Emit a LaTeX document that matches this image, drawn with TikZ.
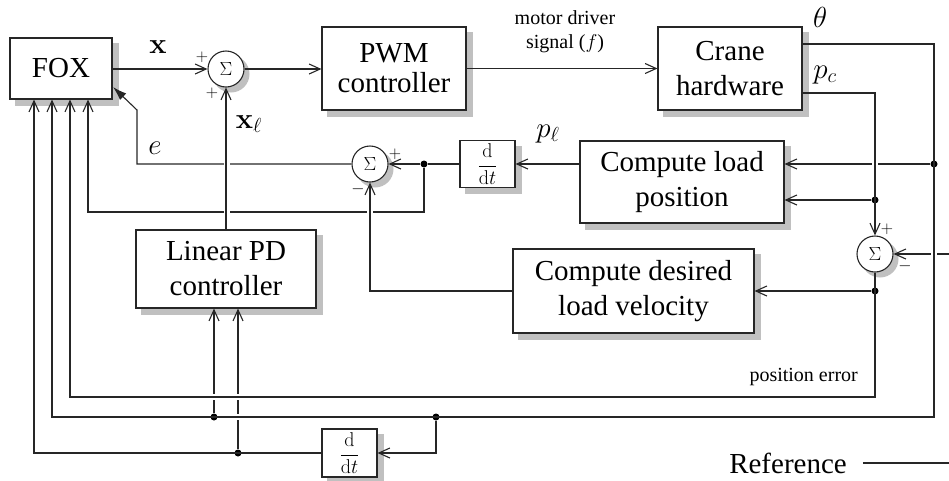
\documentclass[tikz,border=0pt]{standalone}
\usepackage{fix-cm}
\usepackage[no-math]{fontspec}
\setmainfont{Liberation Serif}
\usetikzlibrary{arrows.meta}
\pgfdeclarelayer{shadowlayer}
\pgfsetlayers{shadowlayer,main}
\definecolor{shadowgray}{RGB}{192,192,192}
\newcommand\fsBig{\fontsize{29}{35}\selectfont}
\newcommand\fsPWM{\fontsize{29}{30}\selectfont}
\newcommand\fsSmall{\fontsize{20}{24}\selectfont}
\newcommand\fsSig{\fontsize{19}{23}\selectfont}
\newcommand\fsPM{\fontsize{17}{20}\selectfont}
\newcommand\fsDdt{\fontsize{20}{24}\selectfont}
\begin{document}
\begin{tikzpicture}[x=1pt,y=-1pt,
  wire/.style={draw=black!85, line width=1.1pt},
  arr/.style={wire, -{Straight Barb[length=11pt,width=10pt]}},
  halo/.style={draw=white, line width=6pt},
  shadowfill/.style={fill=shadowgray, draw=none},
  box/.style={draw=black!85, line width=1.1pt, fill=white, inner sep=0pt, align=center, font=\fsBig},
  sumnode/.style={circle, draw=black!85, line width=1.1pt, fill=white, minimum size=36pt, inner sep=0pt, font=\fsSig},
  dot/.style={circle, fill=black, inner sep=0pt, minimum size=7pt},
  lbl/.style={inner sep=0pt, font=\fsBig},
  smalltxt/.style={inner sep=0pt, align=center, font=\fsSmall},
  pm/.style={inner sep=0pt, font=\fsPM},
]
\useasboundingbox (0,0) rectangle (949,480);

% blocks
\node[box, minimum width=102pt, minimum height=61pt] (fox) at (61,68.5) {FOX};
\node[box, font=\fsPWM, minimum width=144pt, minimum height=83pt] (pwm) at (394,68.5) {PWM\\controller};
\node[box, minimum width=144pt, minimum height=83pt] (crane) at (730,68.5) {Crane\\hardware};
\node[box, minimum width=204pt, minimum height=82pt] (cload) at (682,182) {Compute load\\position};
\node[box, font=\fsDdt, minimum width=55pt, minimum height=47pt] (ddt1) at (487.5,164) {$\displaystyle\frac{\mathrm{d}}{\mathrm{d}t}$};
\node[box, minimum width=180pt, minimum height=78pt] (lpd) at (226,269) {Linear PD\\controller};
\node[box, minimum width=241pt, minimum height=84pt] (cdes) at (633.5,291) {Compute desired\\load velocity};
\node[box, font=\fsDdt, minimum width=55pt, minimum height=48pt] (ddt2) at (349.5,453) {$\displaystyle\frac{\mathrm{d}}{\mathrm{d}t}$};
\node[sumnode] (s1) at (226,69) {$\Sigma$};
\node[sumnode] (s2) at (370,164) {$\Sigma$};
\node[sumnode] (s3) at (875,254) {$\Sigma$};

% drop shadows, behind the blocks
\begin{pgfonlayer}{shadowlayer}
\foreach \n in {fox,pwm,crane,cload,ddt1,lpd,cdes,ddt2}
  \fill[shadowfill] ([shift={(6,6)}]\n.south west) rectangle ([shift={(6,6)}]\n.north east);
\foreach \n in {s1,s2,s3}
  \fill[shadowfill] ([shift={(5,5)}]\n.center) circle (18.5pt);
\end{pgfonlayer}

% branch points
\node[dot] (d1) at (934,164) {};
\node[dot] (d2) at (875,200) {};
\node[dot] (d3) at (875,291) {};
\node[dot] (d4) at (424,164) {};
\node[dot] (d5) at (214,417) {};
\node[dot] (d6) at (436,417) {};
\node[dot] (d7) at (238,453) {};

% routing points
\coordinate (thA) at (934,44);
\coordinate (thB) at (934,417);
\coordinate (thC) at (52,417);
\coordinate (pcA) at (875,93);
\coordinate (peA) at (875,397);
\coordinate (peB) at (70,397);
\coordinate (plA) at (424,212);
\coordinate (plB) at (88,212);
\coordinate (eA) at (137,164);
\coordinate (eB) at (137,110);
\coordinate (eT) at (113,87);
\coordinate (ddA) at (436,453);
\coordinate (ddB) at (34,453);
\coordinate (rin) at (949,254);
\coordinate (refR) at (949,463);

% lines that are broken at crossings
\draw[wire, -{Latex[length=14pt,width=9pt]}] (s2.west) -- (eA) -- (eB) -- (eT);
\draw[wire] (ddt1.west) -- (d4);
\draw[arr] (d4) -- (s2.east);
\draw[arr] (d4) -- (plA) -- (plB) -- (fox.south -| plB);
\draw[arr] (d1) -- (cload.east |- d1);
\draw[arr] (rin) -- (s3.east);
\draw[arr] (d5) -- (lpd.south -| d5);
\draw[arr] (d7) -- (lpd.south -| d7);

% gaps
\draw[halo] (227,159) -- (227,169);
\draw[halo] (227,207) -- (227,217);
\draw[halo] (370,207) -- (370,217);
\draw[halo] (875,159) -- (875,169);
\draw[halo] (934,249) -- (934,259);
\draw[halo] (209,397) -- (219,397);
\draw[halo] (233,397) -- (243,397);
\draw[halo] (233,417) -- (243,417);

% lines running through crossings
\draw[arr] (lpd.north) -- (s1.south);
\draw[arr] (cdes.west) -- (cdes.west -| s2) -- (s2.south);
\draw[arr] (crane.east |- pcA) -- (pcA) -- (s3.north);
\draw[arr] (crane.east |- thA) -- (thA) -- (thB) -- (thC) -- (fox.south -| thC);
\draw[arr] (s3.south) -- (peA) -- (peB) -- (fox.south -| peB);

% other connectors
\draw[arr] (fox.east |- s1.west) -- (s1.west);
\draw[arr] (s1.east) -- (pwm.west |- s1.east);
\draw[arr] (pwm.east) -- (crane.west);
\draw[arr] (d2) -- (cload.east |- d2);
\draw[arr] (d3) -- (cdes.east |- d3);
\draw[arr] (cload.west |- ddt1) -- (ddt1.east);
\draw[arr] (d6) -- (ddA) -- (ddt2.east);
\draw[arr] (ddt2.west) -- (ddB) -- (fox.south -| ddB);

% labels
\node[lbl] (lx) at (158,47) {$\mathbf{x}$};
\node[pm] (p1) at (202,57) {$+$};
\node[pm] (p2) at (212,93) {$+$};
\node[lbl] (lxl) at (249,124) {$\mathbf{x}_\ell$};
\node[lbl] (le) at (155,148) {$e$};
\node[pm] (p3) at (395,154) {$+$};
\node[pm] (m3) at (358,189) {$-$};
\node[lbl] (lpl) at (548,134) {$p_\ell$};
\node[lbl] (lth) at (820,17) {$\theta$};
\node[lbl] (lpc) at (825,75) {$p_c$};
\node[smalltxt] (lmd) at (565,32) {motor driver\\signal ($f$)};
\node[pm] (p4) at (887,229) {$+$};
\node[pm] (m4) at (905,266) {$-$};
\node[smalltxt, anchor=east] (lpe) at (858,377) {position error};
\node[lbl] (ref) at (788,463) {Reference};
\draw[wire] ([xshift=16pt]ref.east) -- (refR);
\end{tikzpicture}
\end{document}
